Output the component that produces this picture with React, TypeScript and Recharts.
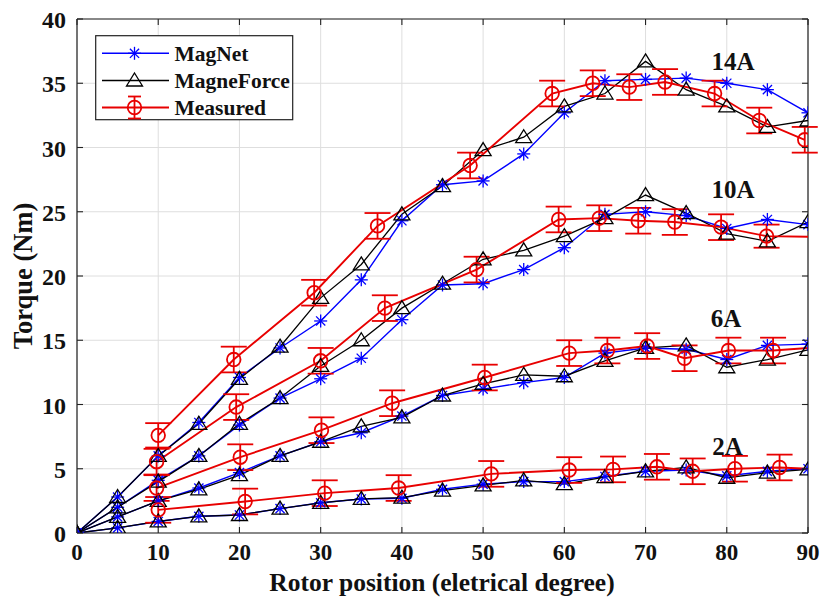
import React from 'react';
import { ComposedChart, Line, XAxis, YAxis, CartesianGrid, ErrorBar, ReferenceLine } from 'recharts';

// ---------- data ----------
const angles = [0, 5, 10, 15, 20, 25, 30, 35, 40, 45, 50, 55, 60, 65, 70, 75, 80, 85, 90];
const xTicks = [0, 10, 20, 30, 40, 50, 60, 70, 80, 90];
const yTicks = [0, 5, 10, 15, 20, 25, 30, 35, 40];
const seriesNames = ['MagNet', 'MagneForce', 'Measured'];
const currentLabels = ['14A', '10A', '6A', '2A'];

const magnet14 = [0, 2.8, 6.0, 8.6, 12.1, 14.4, 16.5, 19.7, 24.3, 27.1, 27.4, 29.5, 32.7, 35.2, 35.3, 35.4, 35.0, 34.5, 32.7];
const magneForce14 = [0, 2.8, 6.0, 8.5, 12.0, 14.5, 18.3, 20.9, 24.8, 27.0, 29.8, 30.8, 33.2, 34.2, 36.7, 34.5, 33.2, 31.6, 32.1];
const measX14 = [10, 19.3, 29.2, 37.0, 48.4, 58.5, 63.5, 68.0, 72.4, 78.5, 84.0, 89.6];
const measY14 = [7.6, 13.5, 18.7, 23.9, 28.6, 34.2, 35.0, 34.7, 35.1, 34.2, 32.1, 30.6];
const measErr14 = [0.95, 1.0, 1.0, 1.0, 1.0, 1.0, 1.0, 1.0, 1.0, 1.0, 1.0, 1.0];

const magnet10 = [0, 2.0, 4.1, 6.0, 8.4, 10.5, 12.0, 13.6, 16.6, 19.3, 19.4, 20.5, 22.2, 24.8, 25.0, 24.7, 23.7, 24.4, 24.0];
const magneForce10 = [0, 2.0, 4.0, 6.0, 8.5, 10.5, 13.0, 15.0, 17.5, 19.4, 21.3, 22.0, 23.1, 24.5, 26.3, 24.9, 23.3, 22.7, 24.2];
const measX10 = [9.8, 19.6, 30.0, 37.9, 49.2, 59.3, 64.3, 69.1, 73.6, 79.3, 84.9, 90];
const measY10 = [5.55, 9.8, 13.4, 17.5, 20.5, 24.4, 24.5, 24.3, 24.2, 23.8, 23.1, 23.05];
const measErr10 = [1.0, 1.0, 1.0, 1.0, 1.0, 1.0, 1.0, 1.0, 1.0, 1.0, 0.9, 0];

const magnet6 = [0, 1.25, 2.5, 3.5, 4.7, 6.0, 7.1, 7.8, 9.1, 10.7, 11.2, 11.7, 12.1, 14.0, 14.4, 14.3, 13.5, 14.6, 14.7];
const magneForce6 = [0, 1.25, 2.5, 3.4, 4.5, 6.0, 7.1, 8.3, 9.0, 10.7, 11.6, 12.3, 12.2, 13.4, 14.4, 14.6, 12.9, 13.5, 14.25];
const measX6 = [9.8, 20.1, 30.1, 38.8, 50.2, 60.6, 65.3, 70.2, 74.8, 80.2, 85.7, 90];
const measY6 = [3.5, 5.9, 8.0, 10.1, 12.1, 14.0, 14.2, 14.55, 13.6, 14.2, 14.2, 14.4];
const measErr6 = [1.0, 1.0, 1.0, 1.0, 1.0, 1.0, 1.0, 1.0, 1.0, 1.0, 1.0, 0];

const magnet2 = [0, 0.4, 0.9, 1.3, 1.4, 1.9, 2.35, 2.65, 2.7, 3.4, 3.8, 4.0, 4.0, 4.4, 4.8, 4.9, 4.45, 4.8, 5.0];
const magneForce2 = [0, 0.4, 0.9, 1.3, 1.4, 1.9, 2.35, 2.65, 2.75, 3.3, 3.7, 4.1, 3.8, 4.35, 4.8, 5.1, 4.3, 4.7, 4.95];
const measX2 = [10, 20.7, 30.5, 39.6, 51.0, 60.6, 66.0, 71.4, 75.8, 81.0, 86.5, 90];
const measY2 = [1.8, 2.45, 3.1, 3.5, 4.6, 4.9, 4.95, 5.15, 4.8, 5.0, 5.1, 5.0];
const measErr2 = [1.0, 1.0, 1.0, 1.0, 1.0, 1.0, 1.0, 1.0, 1.0, 1.0, 1.0, 0];

// ---------- build tables ----------
const simRows = (ys: number[]) => angles.map((x, i) => ({ x, y: ys[i] }));
const measRows = (xs: number[], ys: number[], es: number[]) =>
  xs.map((x, i) => ({ x, y: ys[i], err: es[i] }));

const groups = [
  { id: 'a14', magnet: simRows(magnet14), force: simRows(magneForce14), meas: measRows(measX14, measY14, measErr14) },
  { id: 'a10', magnet: simRows(magnet10), force: simRows(magneForce10), meas: measRows(measX10, measY10, measErr10) },
  { id: 'a6', magnet: simRows(magnet6), force: simRows(magneForce6), meas: measRows(measX6, measY6, measErr6) },
  { id: 'a2', magnet: simRows(magnet2), force: simRows(magneForce2), meas: measRows(measX2, measY2, measErr2) },
];

// ---------- styling ----------
const BLUE = '#0000ff';
const BLACK = '#000000';
const RED = '#e80000';
const FONT = '"Liberation Serif", "Times New Roman", serif';
const PL = 77, PR = 808, PT = 19, PB = 533;

const StarShape = ({ cx, cy, color = BLUE }: any) => (
  <g stroke={color} strokeWidth={1.3} fill="none">
    <line x1={cx} y1={cy - 6.5} x2={cx} y2={cy + 6.5} />
    <line x1={cx - 6.5} y1={cy} x2={cx + 6.5} y2={cy} />
    <line x1={cx - 4.6} y1={cy - 4.6} x2={cx + 4.6} y2={cy + 4.6} />
    <line x1={cx - 4.6} y1={cy + 4.6} x2={cx + 4.6} y2={cy - 4.6} />
  </g>
);

const TriShape = ({ cx, cy }: any) => (
  <path d={`M${cx},${cy - 7.5} L${cx + 8},${cy + 5.5} L${cx - 8},${cy + 5.5} Z`} stroke={BLACK} strokeWidth={1.3} fill="none" />
);

const CircShape = ({ cx, cy }: any) => (
  <circle cx={cx} cy={cy} r={6.8} stroke={RED} strokeWidth={1.8} fill="none" />
);

const starDot = (p: any) => (
  p.cx == null ? <g key={p.key ?? p.index} /> : <g key={p.key ?? p.index}><StarShape cx={p.cx} cy={p.cy} /></g>
);
const triDot = (p: any) => (
  p.cx == null ? <g key={p.key ?? p.index} /> : <g key={p.key ?? p.index}><TriShape cx={p.cx} cy={p.cy} /></g>
);
const circDot = (p: any) => {
  if (p.cx == null || !p.payload || !p.payload.err) return <g key={p.key ?? p.index} />;
  return <g key={p.key ?? p.index}><CircShape cx={p.cx} cy={p.cy} /></g>;
};

const XTick = (p: any) => {
  const { x, payload } = p;
  return (
    <g>
      <line x1={x} x2={x} y1={PB} y2={PB - 6} stroke="#222" strokeWidth={1.1} />
      <line x1={x} x2={x} y1={PT} y2={PT + 6} stroke="#222" strokeWidth={1.1} />
      <text x={x} y={560} textAnchor="middle" fontFamily={FONT} fontWeight={700} fontSize={23} fill="#111">
        {payload.value}
      </text>
    </g>
  );
};

const YTick = (p: any) => {
  const { y, payload } = p;
  return (
    <g>
      <line x1={PL} x2={PL + 6} y1={y} y2={y} stroke="#222" strokeWidth={1.1} />
      <line x1={PR - 6} x2={PR} y1={y} y2={y} stroke="#222" strokeWidth={1.1} />
      <text x={66} y={y + 9} textAnchor="end" fontFamily={FONT} fontWeight={700} fontSize={24} fill="#111">
        {payload.value}
      </text>
    </g>
  );
};

const legendRows = [53.3, 80.5, 107.5];

export default function App() {
  return (
    <div style={{ position: 'absolute', left: 0, top: 0, width: 822, height: 605, background: '#fff' }}>
      <ComposedChart width={822} height={605} margin={{ top: PT, right: 822 - PR, bottom: 0, left: 0 }}>
        <CartesianGrid stroke="#dedede" strokeWidth={1} />
        <XAxis
          type="number"
          dataKey="x"
          domain={[0, 90]}
          ticks={xTicks}
          height={605 - PB}
          tickLine={false}
          tick={<XTick />}
          axisLine={{ stroke: '#222', strokeWidth: 1.2 }}
          allowDataOverflow
        />
        <YAxis
          type="number"
          dataKey="y"
          domain={[0, 40]}
          ticks={yTicks}
          width={PL}
          tickLine={false}
          tick={<YTick />}
          axisLine={{ stroke: '#222', strokeWidth: 1.2 }}
          allowDataOverflow
        />
        <ReferenceLine y={40} stroke="#222" strokeWidth={1.2} />
        <ReferenceLine x={90} stroke="#222" strokeWidth={1.2} />
        {groups.map((g) => (
          <Line
            key={g.id + 'mn'}
            data={g.magnet}
            dataKey="y"
            type="linear"
            stroke={BLUE}
            strokeWidth={1.4}
            dot={starDot}
            activeDot={false}
            isAnimationActive={false}
          />
        ))}
        {groups.map((g) => (
          <Line
            key={g.id + 'mf'}
            data={g.force}
            dataKey="y"
            type="linear"
            stroke={BLACK}
            strokeWidth={1.3}
            dot={triDot}
            activeDot={false}
            isAnimationActive={false}
          />
        ))}
        {groups.map((g) => (
          <Line
            key={g.id + 'me'}
            data={g.meas}
            dataKey="y"
            type="linear"
            stroke={RED}
            strokeWidth={1.9}
            dot={circDot}
            activeDot={false}
            isAnimationActive={false}
          >
            <ErrorBar dataKey="err" width={13} stroke={RED} strokeWidth={1.8} direction="y" />
          </Line>
        ))}
      </ComposedChart>
      <svg width={822} height={605} style={{ position: 'absolute', left: 0, top: 0, pointerEvents: 'none' }}>
        <text x={442} y={591} textAnchor="middle" fontFamily={FONT} fontWeight={700} fontSize={25.5} fill="#111">
          Rotor position (eletrical degree)
        </text>
        <text
          x={32}
          y={276}
          transform="rotate(-90 32 276)"
          textAnchor="middle"
          fontFamily={FONT}
          fontWeight={700}
          fontSize={26.5}
          fill="#111"
        >
          Torque (Nm)
        </text>
        <text x={733} y={70} textAnchor="middle" fontFamily={FONT} fontWeight={700} fontSize={25} fill="#111">{currentLabels[0]}</text>
        <text x={733} y={198} textAnchor="middle" fontFamily={FONT} fontWeight={700} fontSize={25} fill="#111">{currentLabels[1]}</text>
        <text x={726} y={327} textAnchor="middle" fontFamily={FONT} fontWeight={700} fontSize={25} fill="#111">{currentLabels[2]}</text>
        <text x={727.5} y={455} textAnchor="middle" fontFamily={FONT} fontWeight={700} fontSize={25} fill="#111">{currentLabels[3]}</text>

        <rect x={95.7} y={35.7} width={197} height={84} fill="#fff" stroke="#222" strokeWidth={1.2} />
        <line x1={102} x2={169} y1={legendRows[0]} y2={legendRows[0]} stroke={BLUE} strokeWidth={1.4} />
        <StarShape cx={134.5} cy={legendRows[0]} />
        <line x1={102} x2={169} y1={legendRows[1]} y2={legendRows[1]} stroke={BLACK} strokeWidth={1.3} />
        <TriShape cx={134.5} cy={legendRows[1]} />
        <line x1={102} x2={169} y1={legendRows[2]} y2={legendRows[2]} stroke={RED} strokeWidth={1.9} />
        <CircShape cx={134.5} cy={legendRows[2]} />
        <g stroke={RED} strokeWidth={1.8}>
          <line x1={134.5} x2={134.5} y1={legendRows[2] - 11} y2={legendRows[2] + 11} />
          <line x1={128} x2={141} y1={legendRows[2] - 11} y2={legendRows[2] - 11} />
          <line x1={128} x2={141} y1={legendRows[2] + 11} y2={legendRows[2] + 11} />
        </g>
        {seriesNames.map((n, i) => (
          <text key={n} x={174.5} y={legendRows[i] + 7.5} fontFamily={FONT} fontWeight={700} fontSize={21.5} fill="#111">
            {n}
          </text>
        ))}
      </svg>
    </div>
  );
}
